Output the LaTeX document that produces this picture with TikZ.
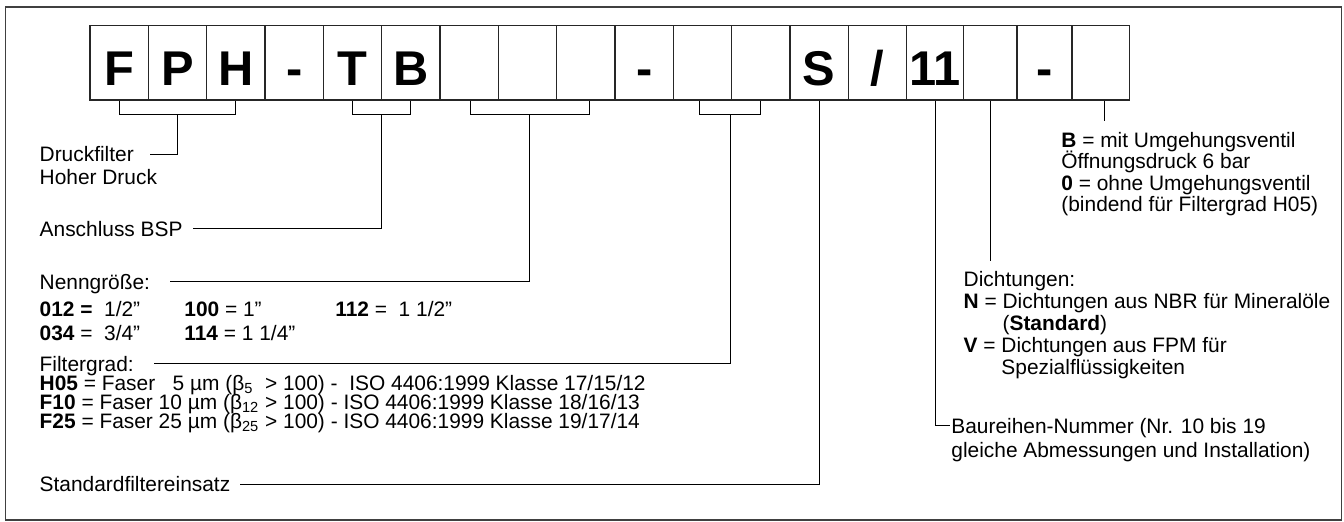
\documentclass[tikz,border=0pt]{standalone}
\usepackage{fontspec}
\setmainfont{Liberation Sans}
\usetikzlibrary{calc}
\begin{document}
\begin{tikzpicture}[x=0.5pt,y=-0.5pt,
  cell/.style={draw=black!85, line width=0.6pt, inner sep=0pt, minimum height=37.15pt,
    text height=22.15pt, text depth=0pt, font=\fontsize{24.4}{24}\selectfont\bfseries},
  conn/.style={draw=black, line width=0.5pt},
  lbl/.style={anchor=base west, inner sep=0pt, font=\fontsize{10.45}{12}\selectfont},
]
\useasboundingbox (0,0) rectangle (1344,521);
\draw[black!75, line width=0.7pt] (5.5,520) rectangle (1341.5,7);

% code cells
\node[cell, minimum width=29.17pt] (c0)  at (119.17,62.85) {F};
\node[cell, minimum width=29.17pt] (c1)  at (177.50,62.85) {P};
\node[cell, minimum width=29.17pt] (c2)  at (235.83,62.85) {H};
\node[cell, minimum width=29.17pt] (c3)  at (294.17,62.85) {-};
\node[cell, minimum width=29.17pt] (c4)  at (352.50,62.85) {T};
\node[cell, minimum width=29.17pt] (c5)  at (410.83,62.85) {B};
\node[cell, minimum width=29.17pt] (c6)  at (469.17,62.85) {};
\node[cell, minimum width=29.17pt] (c7)  at (527.50,62.85) {};
\node[cell, minimum width=29.17pt] (c8)  at (585.83,62.85) {};
\node[cell, minimum width=29.17pt] (c9)  at (644.17,62.85) {-};
\node[cell, minimum width=29.17pt] (c10) at (702.50,62.85) {};
\node[cell, minimum width=29.17pt] (c11) at (760.83,62.85) {};
\node[cell, minimum width=29.17pt] (c12) at (819.17,62.85) {S};
\node[cell, minimum width=29.17pt] (c13) at (877.50,62.85) {/};
\node[cell, minimum width=28.42pt] (c14) at (935.10,62.85) {11};
\node[cell, minimum width=26.75pt] (c15) at (990.25,62.85) {};
\node[cell, minimum width=27.50pt] (c16) at (1044.50,62.85) {-};
\node[cell, minimum width=28.75pt] (c17) at (1100.75,62.85) {};

% end points of connectors
\coordinate (e1) at (150,154.3);
\coordinate (e2) at (193,228.3);
\coordinate (e3) at (170,281.7);
\coordinate (e4) at (154,363.3);
\coordinate (e5) at (240,484);
\coordinate (e6) at (950,425);
\path (c15.south) ++(0,160) coordinate (e7);
\path ([xshift=2pt]c17.south) ++(0,20) coordinate (e8);

% brackets
\coordinate (b1) at ($(c0.south)!0.5!(c2.south)+(0,14)$);
\coordinate (b2) at ($(c4.south)!0.5!(c5.south)+(0,14)$);
\coordinate (b3) at ($([xshift=0.5pt]c6.south)!0.5!([xshift=1.75pt]c8.south)+(0,14)$);
\coordinate (b4) at ($([xshift=-1.5pt]c10.south)!0.5!(c11.south)+(0,14)$);
\draw[conn] (c0.south) |- (b1) -| (c2.south);
\draw[conn] (c4.south) |- (b2) -| (c5.south);
\draw[conn] ([xshift=0.5pt]c6.south) |- (b3) -| ([xshift=1.75pt]c8.south);
\draw[conn] ([xshift=-1.5pt]c10.south) |- (b4) -| (c11.south);
\draw[conn] (b1) |- (e1);
\draw[conn] (b2) |- (e2);
\draw[conn] (b3) |- (e3);
\draw[conn] (b4) |- (e4);
\draw[conn] (c12.south) |- (e5);
\draw[conn] (c14.south) |- (e6);
\draw[conn] (c15.south) -- (e7);
\draw[conn] ([xshift=2pt]c17.south) -- (e8);

% left texts
\node[lbl] (t1) at (39.3,161.7) {Druckfilter};
\node[lbl] (t2) at (39.3,184) {Hoher Druck};
\node[lbl] (t3) at (39.3,236) {Anschluss BSP};
\node[lbl] (t4) at (39.3,289.5) {Nenngröße:};
\node[lbl] (n1) at (39.3,316) {\textbf{012 =}\ \ 1/2”};
\node[lbl] (n2) at (184,316) {\textbf{100} = 1”};
\node[lbl] (n3) at (335,316) {\textbf{112} =\ \ 1 1/2”};
\node[lbl] (n4) at (39.3,340) {\textbf{034} =\ \ 3/4”};
\node[lbl] (n5) at (184,340) {\textbf{114} = 1 1/4”};
\node[lbl] (t5) at (39.3,371.5) {Filtergrad:};
\node[lbl] (f1) at (39.3,390.5) {\textbf{H05} = Faser\ \ \ 5 µm (β\textsubscript{5}\ \ > 100) -\ \ ISO 4406:1999 Klasse 17/15/12};
\node[lbl] (f2) at (39.3,409.5) {\textbf{F10} = Faser 10 µm (β\textsubscript{12} > 100) - ISO 4406:1999 Klasse 18/16/13};
\node[lbl] (f3) at (39.3,428.5) {\textbf{F25} = Faser 25 µm (β\textsubscript{25} > 100) - ISO 4406:1999 Klasse 19/17/14};
\node[lbl] (t6) at (39.3,491) {Standardfiltereinsatz};

% right texts
\node[lbl] (r1) at (1061,147) {\textbf{B} = mit Umgehungsventil};
\node[lbl] (r2) at (1061,168.5) {Öffnungsdruck 6 bar};
\node[lbl] (r3) at (1061,190) {\textbf{0} = ohne Umgehungsventil};
\node[lbl] (r4) at (1061,211.5) {(bindend für Filtergrad H05)};
\node[lbl] (d1) at (963.3,286) {Dichtungen:};
\node[lbl] (d2) at (963.3,308) {\textbf{N} = Dichtungen aus NBR für Mineralöle};
\node[lbl] (d3) at (963.3,330) {\phantom{\textbf{N} = }(\textbf{Standard})};
\node[lbl] (d4) at (963.3,352) {\textbf{V} = Dichtungen aus FPM für};
\node[lbl] (d5) at (963.3,374) {\phantom{\textbf{V} = }Spezialflüssigkeiten};
\node[lbl] (s1) at (951,433) {Baureihen-Nummer (Nr. 10 bis 19};
\node[lbl] (s2) at (951,457) {gleiche Abmessungen und Installation)};
\end{tikzpicture}
\end{document}
